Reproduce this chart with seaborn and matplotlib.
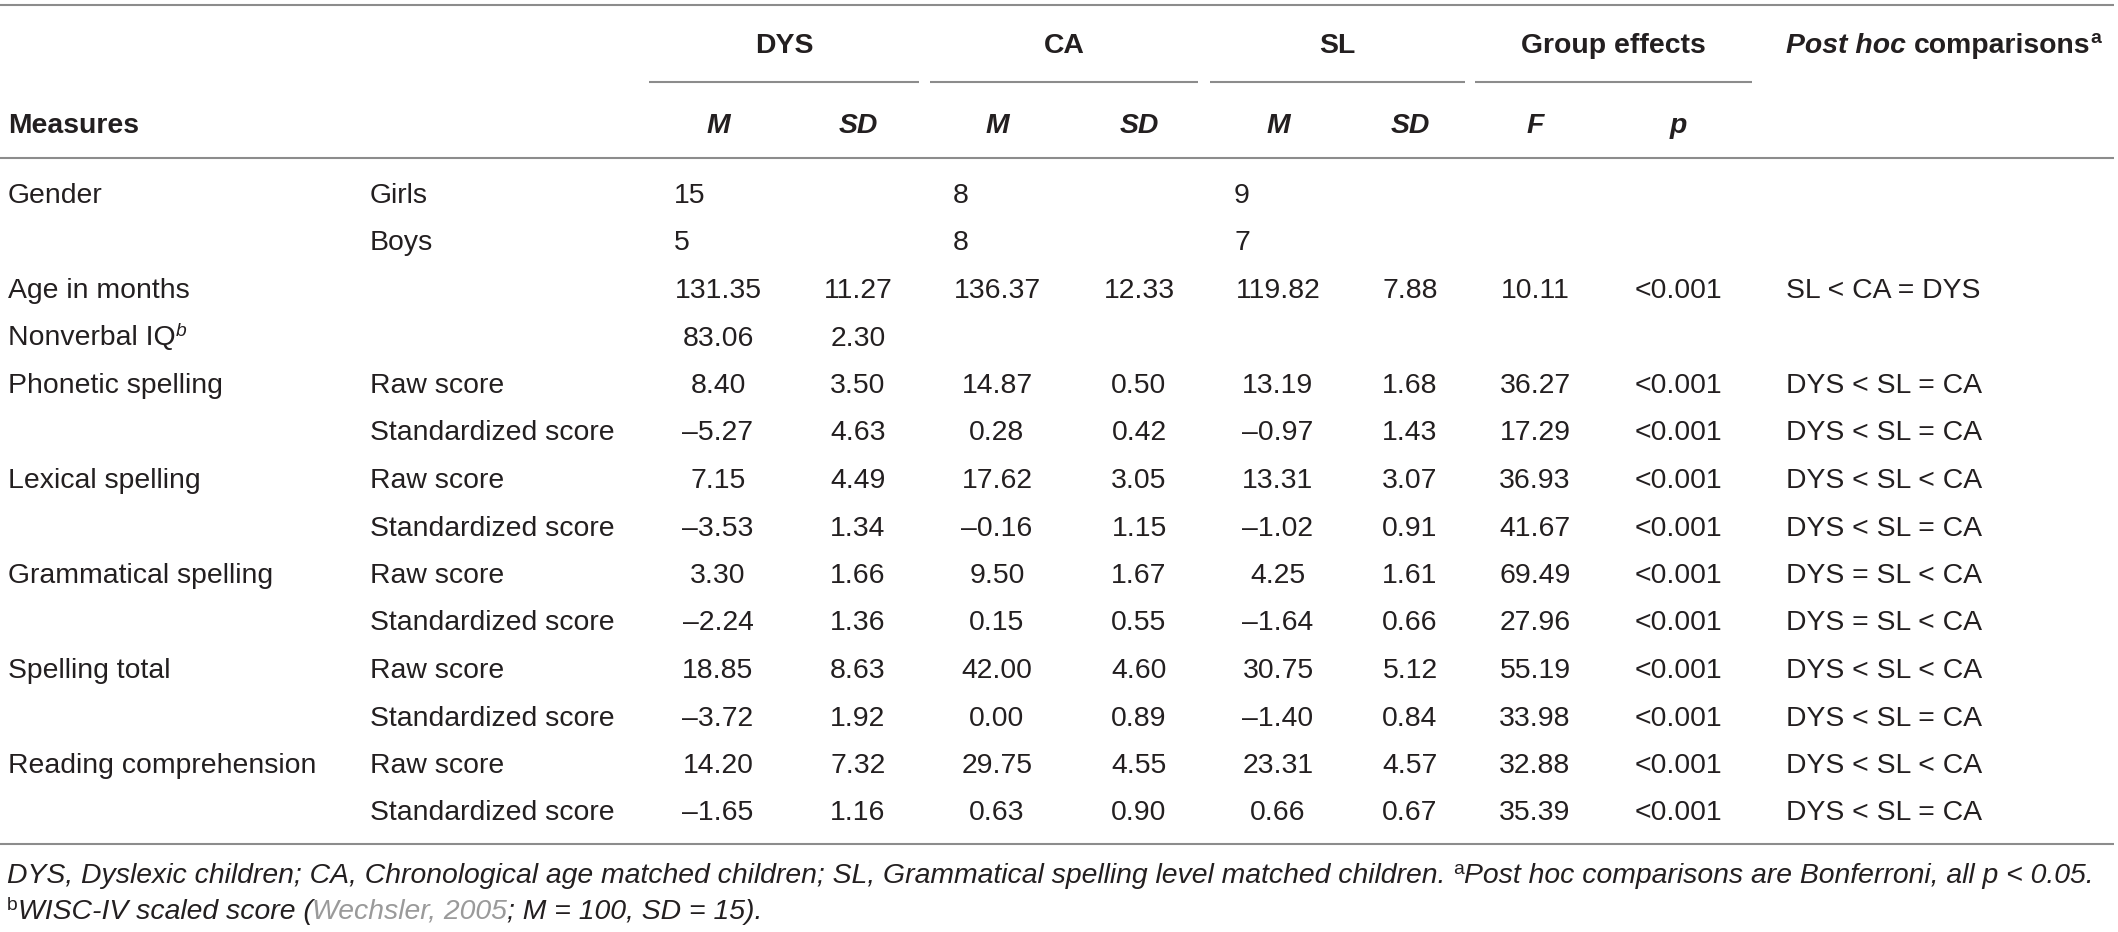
import numpy as np
import matplotlib
matplotlib.use("Agg")
import matplotlib.pyplot as plt
import seaborn as sns

# ---- table content ----
measures = ["Gender", "", "Age in months", "Nonverbal IQ", "Phonetic spelling", "",
            "Lexical spelling", "", "Grammatical spelling", "", "Spelling total", "",
            "Reading comprehension", ""]
subtypes = ["Girls", "Boys", "", "", "Raw score", "Standardized score",
            "Raw score", "Standardized score", "Raw score", "Standardized score",
            "Raw score", "Standardized score", "Raw score", "Standardized score"]

groups = ["DYS", "CA", "SL"]
girls = [15, 8, 9]
boys = [5, 8, 7]

# rows from "Age in months" down to the last standardized score
dys_m = [131.35, 83.06, 8.40, -5.27, 7.15, -3.53, 3.30, -2.24, 18.85, -3.72, 14.20, -1.65]
dys_sd = [11.27, 2.30, 3.50, 4.63, 4.49, 1.34, 1.66, 1.36, 8.63, 1.92, 7.32, 1.16]
ca_m = [136.37, np.nan, 14.87, 0.28, 17.62, -0.16, 9.50, 0.15, 42.00, 0.00, 29.75, 0.63]
ca_sd = [12.33, np.nan, 0.50, 0.42, 3.05, 1.15, 1.67, 0.55, 4.60, 0.89, 4.55, 0.90]
sl_m = [119.82, np.nan, 13.19, -0.97, 13.31, -1.02, 4.25, -1.64, 30.75, -1.40, 23.31, 0.66]
sl_sd = [7.88, np.nan, 1.68, 1.43, 3.07, 0.91, 1.61, 0.66, 5.12, 0.84, 4.57, 0.67]
f_vals = [10.11, np.nan, 36.27, 17.29, 36.93, 41.67, 69.49, 27.96, 55.19, 33.98, 32.88, 35.39]
p_vals = ["<0.001", "", "<0.001", "<0.001", "<0.001", "<0.001", "<0.001", "<0.001",
          "<0.001", "<0.001", "<0.001", "<0.001"]
posthoc = ["SL < CA = DYS", "", "DYS < SL = CA", "DYS < SL = CA", "DYS < SL < CA",
           "DYS < SL = CA", "DYS = SL < CA", "DYS = SL < CA", "DYS < SL < CA",
           "DYS < SL = CA", "DYS < SL < CA", "DYS < SL = CA"]

footnote_1 = ("DYS, Dyslexic children; CA, Chronological age matched children; "
              "SL, Grammatical spelling level matched children.")
footnote_1b = "Post hoc comparisons are Bonferroni, all p < 0.05."
footnote_2 = ["WISC-IV scaled score (", "Wechsler, 2005", "; M = 100, SD = 15)."]

# ---- style ----
sns.set_theme(style="white")
plt.rcParams["font.family"] = ["Liberation Sans", "DejaVu Sans"]

W, H = 2118, 932
FS = 20.4
INK = "#231f20"
RULE = "#8c8c8c"

fig = plt.figure(figsize=(W / 100, H / 100), dpi=100)
ax = fig.add_axes([0, 0, 1, 1])
ax.set_xlim(0, W)
ax.set_ylim(H, 0)
ax.axis("off")
renderer = fig.canvas.get_renderer()


def fmt(v):
    if v is None or (isinstance(v, float) and np.isnan(v)):
        return ""
    return f"{v:.2f}".replace("-", "\u2013")


def put(x, y, s, ha="left", **kw):
    # y is the vertical centre of the capital letters
    return ax.text(x, y + 10, s, ha=ha, va="baseline", fontsize=kw.pop("fontsize", FS),
                   color=kw.pop("color", INK), **kw)


def text_w(s, **kw):
    t = ax.text(0, 0, s, fontsize=kw.pop("fontsize", FS), **kw)
    w = t.get_window_extent(renderer).width
    t.remove()
    return w


def runs(x, y, parts):
    # parts: (text, kwargs, raise_px); spaces handled via measured space width
    for s, kw, up in parts:
        kw = dict(kw)
        if s == " ":
            x += text_w("x x", **kw) - text_w("xx", **kw)
            continue
        t = put(x, y - up, s, **kw)
        x += t.get_window_extent(renderer).width
    return x


# ---- layout ----
x_measure = 8
x_sub = 370
col_centers = [718, 858, 997, 1139, 1278, 1410, 1535, 1678]
x_posthoc = 1786
row_y = [193 + 47.5 * i for i in range(14)]
count_left = [c - 44 for c in col_centers[0:6:2]]

# rules
for y in (5, 158, 844):
    ax.plot([0, 2114], [y, y], color=RULE, lw=1.5, solid_capstyle="butt")
spans = [(649, 919), (930, 1198), (1210, 1465), (1475, 1752)]
for a, b in spans:
    ax.plot([a, b], [82, 82], color=RULE, lw=1.5, solid_capstyle="butt")

# header
for (a, b), name in zip(spans, groups + ["Group effects"]):
    put((a + b) / 2, 43, name, ha="center", fontweight="bold")
runs(x_posthoc, 43, [("Post hoc", dict(fontweight="bold", fontstyle="italic"), 0),
                     (" ", dict(fontweight="bold"), 0),
                     ("comparisons", dict(fontweight="bold"), 0),
                     ("a", dict(fontweight="bold", fontsize=FS * 0.68), 10)])
put(x_measure, 123, "Measures", fontweight="bold")
for c, lab in zip(col_centers, ["M", "SD", "M", "SD", "M", "SD", "F", "p"]):
    put(c, 123, lab, ha="center", fontweight="bold", fontstyle="italic")

# first two columns
for i, (m, s) in enumerate(zip(measures, subtypes)):
    if m == "Nonverbal IQ":
        runs(x_measure, row_y[i], [(m, {}, 0),
                                   ("b", dict(fontstyle="italic", fontsize=FS * 0.68), 10)])
    elif m:
        put(x_measure, row_y[i], m)
    if s:
        put(x_sub, row_y[i], s)

# gender counts (left aligned)
for g, x in enumerate(count_left):
    put(x, row_y[0], str(girls[g]))
    put(x, row_y[1], str(boys[g]))

# numeric columns
num_cols = [dys_m, dys_sd, ca_m, ca_sd, sl_m, sl_sd, f_vals]
for c, col in zip(col_centers[:7], num_cols):
    for i, v in enumerate(col):
        put(c, row_y[i + 2], fmt(v), ha="center")
for i, (p, ph) in enumerate(zip(p_vals, posthoc)):
    put(col_centers[7], row_y[i + 2], p, ha="center")
    put(x_posthoc, row_y[i + 2], ph)

# footnotes
it = dict(fontstyle="italic")
sup = dict(fontsize=FS * 0.68)
x = runs(7, 873, [(footnote_1, it, 0), (" ", it, 0), ("a", sup, 9),
                  (footnote_1b, it, 0)])
runs(7, 909, [("b", sup, 9), (footnote_2[0], it, 0),
              (footnote_2[1], dict(fontstyle="italic", color="#9a9a9a"), 0),
              (footnote_2[2], it, 0)])

fig.savefig("out.png", dpi=100)
